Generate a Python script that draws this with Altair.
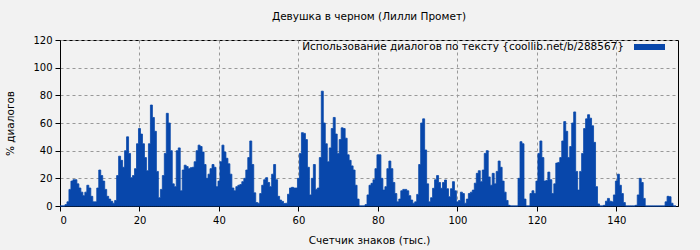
import altair as alt
import pandas as pd

# Dialog usage (%) sampled every 0.5 thousand characters, starting at 0
step_k = 0.5
dialog_pct = [
    0, 0, 0, 1, 3, 12, 18, 19, 19, 16, 13, 10, 7.5, 10, 15, 13, 7, 3, 3, 13,
    26, 22, 18, 12, 7, 5, 3.4, 2, 4, 22, 36, 33, 28, 40, 50, 38, 20.5, 22, 27, 45,
    56, 52, 45, 35, 25.5, 45, 73, 64, 54, 25, 6, 12, 22, 38, 67, 60, 40, 16, 14, 40,
    42, 11, 26, 29.5, 28.5, 27, 27.7, 28, 32, 40, 44, 43, 39, 30, 20, 23, 27, 30, 28, 14,
    18, 32, 44, 39, 34.5, 30.5, 23, 13, 11, 14, 15, 15.5, 17.6, 20, 26, 35, 47, 30, 9.5, 2.5,
    2, 9, 15, 19, 20.5, 17, 14, 23, 30, 19, 7, 4.3, 3.3, 1.8, 2, 8.5, 13, 13.5, 13, 13,
    20, 38, 53, 52.5, 48, 28, 8, 20, 30, 12, 13, 35, 83, 60, 45, 32, 42, 56, 64, 52,
    38, 48, 56.5, 56, 49, 37, 33, 29, 26, 15, 5, 0, 0, 0, 1, 8, 15, 16.4, 19, 27,
    37, 37, 20, 11.5, 14, 27, 32.5, 27, 17, 9, 3, 5, 11, 12, 12, 11, 7.5, 4.3, 2, 3,
    8.4, 30, 60, 63, 40.5, 16, 3, 6, 12.8, 19, 22, 17, 12.8, 17, 18.8, 12.5, 6.7, 12.5, 17.6, 11,
    3, 4, 10, 9, 2, 5, 9, 10, 11.5, 16.5, 23.6, 25.5, 17.6, 26, 38, 40, 21, 15, 23.6, 16,
    25, 32.5, 28, 18, 10, 4, 0.5, 0, 0, 0, 0, 20, 46.5, 45, 5, 0, 0, 9, 11, 9,
    18, 38, 47, 35, 18, 18.5, 24.5, 19, 9, 16, 31, 31.5, 35, 47, 61, 54, 35, 43, 60, 68,
    25, 11.5, 25, 38, 56, 63, 66, 63.5, 58, 46, 14, 1.5, 0, 0, 0.5, 3.5, 5.5, 3.5, 3, 8,
    18, 23, 15, 9, 2.5, 0, 0, 0, 0, 0, 0.5, 8, 20, 17, 5.5, 0, 0, 0, 0, 0,
    0, 0, 0, 0, 0, 3, 7, 6.7, 2, 0, 0,
]
chars_k = [i * step_k for i in range(len(dialog_pct))]

x_ticks = [0, 20, 40, 60, 80, 100, 120, 140]
y_ticks = [0, 20, 40, 60, 80, 100, 120]

title_text = "Девушка в черном (Лилли Промет)"
x_title = "Счетчик знаков (тыс.)"
y_title = "% диалогов"
legend_label = "Использование диалогов по тексту {coollib.net/b/288567}"

blue = "#0847ab"
font = "DejaVu Sans"

df = pd.DataFrame({"k": chars_k, "pct": dialog_pct})

area = alt.Chart(df).mark_area(
    interpolate="step", color=blue, opacity=1,
    stroke=blue, strokeWidth=0.8, strokeJoin="miter",
).encode(
    x=alt.X(
        "k:Q",
        scale=alt.Scale(domain=[0, 155.5], nice=False, zero=False),
        axis=alt.Axis(
            values=x_ticks, title=x_title, titleY=34, titleBaseline="middle",
            labelPadding=4,
        ),
    ),
    y=alt.Y(
        "pct:Q",
        stack=None,
        scale=alt.Scale(domain=[0, 120], nice=False),
        axis=alt.Axis(
            values=y_ticks, title=y_title, titleX=-50, titleBaseline="middle",
            labelPadding=3,
        ),
    ),
)

legend_df = pd.DataFrame({"label": [legend_label]})
legend_text = alt.Chart(legend_df).mark_text(
    align="right", baseline="middle", font=font, fontSize=10.5, color="#000000"
).encode(x=alt.value(564), y=alt.value(7), text="label:N")
legend_rect = alt.Chart(legend_df).mark_rect(color=blue).encode(
    x=alt.value(574), x2=alt.value(605), y=alt.value(4), y2=alt.value(10)
)

chart = alt.layer(area, legend_text, legend_rect).properties(
    width=618,
    height=166,
    title=alt.TitleParams(
        title_text, font=font, fontSize=10.5, fontWeight="normal",
        color="#000000", offset=13, anchor="middle",
    ),
    autosize=alt.AutoSizeParams(type="none"),
    padding={"left": 60, "top": 40, "right": 22, "bottom": 44},
    background="#f2f2f2",
).configure_view(
    stroke="#000000", strokeWidth=1, fill="#f2f2f2"
).configure_axis(
    labelFont=font, titleFont=font, labelFontSize=10, titleFontSize=10.5,
    titleFontWeight="normal", labelColor="#000000", titleColor="#000000",
    domainColor="#000000", tickColor="#000000", tickSize=5,
    gridColor="#999999", gridDash=[3, 3], gridWidth=1,
)

chart.save("out.html", embed_options={"renderer": "svg", "actions": False})
